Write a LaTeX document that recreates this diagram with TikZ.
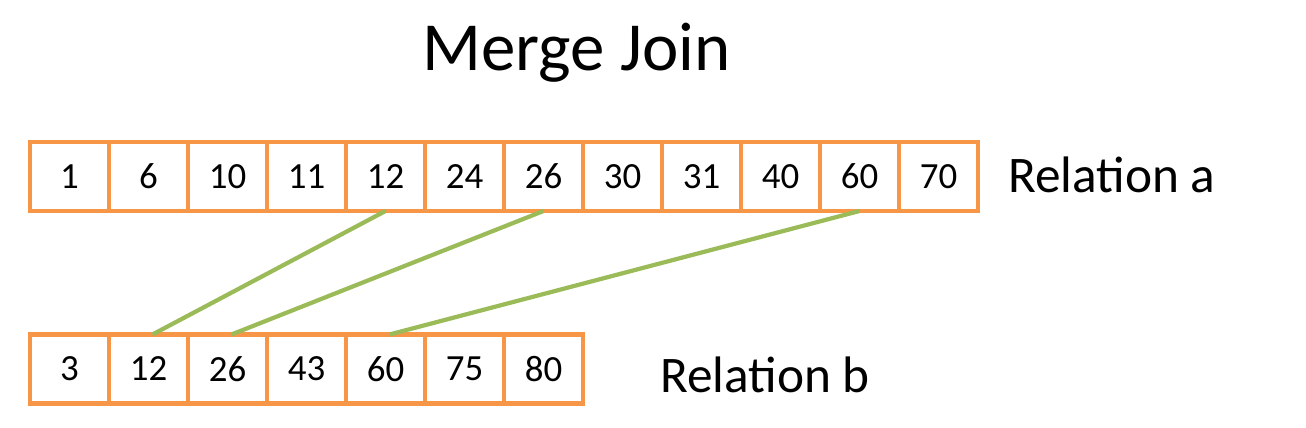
\documentclass[tikz,border=0pt]{standalone}
\usepackage{fontspec}
\setmainfont{Carlito}
\usepackage{tikz}
\usetikzlibrary{positioning}
\definecolor{boxorange}{HTML}{F79646}
\definecolor{matchgreen}{HTML}{9BBB59}

\begin{document}
\begin{tikzpicture}[
    cell/.style={draw=boxorange, line width=1.3pt, minimum width=0.79cm, minimum height=0.69cm,
                 inner sep=0pt, outer sep=0pt, font=\fontsize{10.5}{12}\selectfont},
    relname/.style={anchor=base west, font=\fontsize{14.6}{17}\selectfont},
    match/.style={matchgreen, line width=1.2pt}]
    \useasboundingbox (0,0) rectangle (13.06,4.28);

    % Title
    \node[anchor=base, font=\fontsize{19.6}{23}\selectfont] (title) at (5.765,3.57) {Merge Join};

    % Relation a
    \foreach \v [count=\i] in {1,6,10,11,12,24,26,30,31,40,60,70}
        \node[cell] (a\i) at ({0.695+(\i-1)*0.79},2.515) {\v};
    \node[relname] (rela) at (9.96,2.35) {Relation a};

    % Relation b
    \foreach \v [count=\i] in {3,12,26,43,60,75,80}
        \node[cell] (b\i) at ({0.695+(\i-1)*0.79},0.59) {\v};
    \node[relname] (relb) at (6.48,0.35) {Relation b};

    % Matching keys
    \draw[match] (a5.south) -- ([xshift=0.04cm]b2.north);
    \draw[match] (a7.south) -- ([xshift=0.04cm]b3.north);
    \draw[match] (a11.south) -- ([xshift=0.04cm]b5.north);
\end{tikzpicture}
\end{document}
